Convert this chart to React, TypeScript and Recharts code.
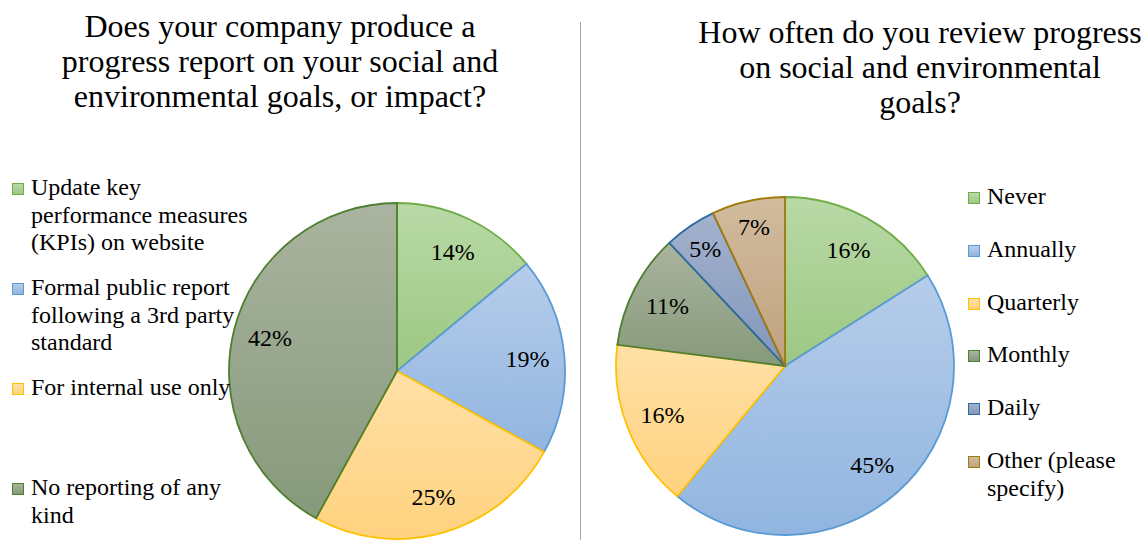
import React from 'react';
import { PieChart, Pie, Cell, Legend } from 'recharts';

// Survey question 1: progress reporting
const reportTitleLines = [
  'Does your company produce a',
  'progress report on your social and',
  'environmental goals, or impact?',
];
const reportCategories = [
  'Update key performance measures (KPIs) on website',
  'Formal public report following a 3rd party standard',
  'For internal use only',
  'No reporting of any kind',
];
const reportShares = [14, 19, 25, 42];

// Survey question 2: review frequency
const reviewTitleLines = [
  'How often do you review progress',
  'on social and environmental',
  'goals?',
];
const reviewCategories = ['Never', 'Annually', 'Quarterly', 'Monthly', 'Daily', 'Other (please specify)'];
const reviewShares = [16, 45, 16, 11, 5, 7];

type Swatch = { id: string; top: string; bottom: string; stroke: string };

const GREEN: Swatch = { id: 'green', top: '#b9d9a6', bottom: '#9cc883', stroke: '#70ad47' };
const BLUE: Swatch = { id: 'blue', top: '#b6cdea', bottom: '#91b5e0', stroke: '#5b9bd5' };
const GOLD: Swatch = { id: 'gold', top: '#ffe0a6', bottom: '#ffd27f', stroke: '#ffc000' };
const OLIVE: Swatch = { id: 'olive', top: '#aab4a0', bottom: '#86997a', stroke: '#4f7e30' };
const NAVY: Swatch = { id: 'navy', top: '#a3b2cd', bottom: '#8396bb', stroke: '#2d6aa3' };
const TAN: Swatch = { id: 'tan', top: '#d1bc9e', bottom: '#c0a27e', stroke: '#a07a0c' };

const reportPalette = [GREEN, BLUE, GOLD, OLIVE];
const reviewPalette = [GREEN, BLUE, GOLD, OLIVE, NAVY, TAN];

const FONT = "'Liberation Serif', 'Times New Roman', serif";
const RADIAN = Math.PI / 180;

const toRows = (names: string[], values: number[]) =>
  names.map((name, i) => ({ name, value: values[i] }));

const reportData = toRows(reportCategories, reportShares);
const reviewData = toRows(reviewCategories, reviewShares);

const Gradients = ({ palette, prefix }: { palette: Swatch[]; prefix: string }) => (
  <defs>
    {palette.map((s) => (
      <linearGradient key={s.id} id={`${prefix}-${s.id}`} x1="0" y1="0" x2="0" y2="1">
        <stop offset="0%" stopColor={s.top} />
        <stop offset="100%" stopColor={s.bottom} />
      </linearGradient>
    ))}
  </defs>
);

// Percent labels sit inside the slice; narrow slices push the label a little outward.
const percentLabel = (props: any) => {
  const { cx, cy, midAngle, outerRadius, value, percent } = props;
  const r = outerRadius * (percent < 0.08 ? 0.84 : 0.78);
  const x = cx + r * Math.cos(-midAngle * RADIAN);
  const y = cy + r * Math.sin(-midAngle * RADIAN);
  return (
    <text
      x={x}
      y={y}
      textAnchor="middle"
      dominantBaseline="central"
      fontFamily={FONT}
      fontSize={24}
      fill="#000"
    >
      {`${value}%`}
    </text>
  );
};

const makeLegend =
  (categories: string[], palette: Swatch[], slot: number, textWidth: number) => (props: any) => {
    const payload = [...(props.payload || [])].sort(
      (a: any, b: any) => categories.indexOf(a.value) - categories.indexOf(b.value),
    );
    return (
      <div style={{ fontFamily: FONT, fontSize: 24, lineHeight: '27.6px', color: '#000' }}>
        {payload.map((entry: any) => {
          const s = palette[categories.indexOf(entry.value)];
          return (
            <div key={entry.value} style={{ height: slot, display: 'flex', alignItems: 'flex-start' }}>
              <span
                style={{
                  display: 'inline-block',
                  width: 10,
                  height: 10,
                  marginTop: 9,
                  marginRight: 7,
                  border: `1.5px solid ${s.stroke}`,
                  background: `linear-gradient(${s.top}, ${s.bottom})`,
                  flex: '0 0 auto',
                }}
              />
              <span style={{ width: textWidth }}>{entry.value}</span>
            </div>
          );
        })}
      </div>
    );
  };

const titleStyle = (left: number, width: number, top: number): React.CSSProperties => ({
  position: 'absolute',
  left,
  width,
  top,
  textAlign: 'center',
  fontFamily: FONT,
  fontSize: 32,
  lineHeight: '35px',
  color: '#000',
  whiteSpace: 'nowrap',
});

export default function App() {
  return (
    <div
      style={{
        position: 'absolute',
        left: 0,
        top: 0,
        width: 1148,
        height: 540,
        background: '#fff',
        overflow: 'hidden',
      }}
    >
      <div style={titleStyle(0, 560, 9)}>
        {reportTitleLines.map((l) => (
          <div key={l}>{l}</div>
        ))}
      </div>
      <div style={titleStyle(692, 456, 15)}>
        {reviewTitleLines.map((l) => (
          <div key={l}>{l}</div>
        ))}
      </div>

      <div
        style={{ position: 'absolute', left: 580, top: 22, width: 1, height: 518, background: '#a6a6a6' }}
      />

      <div style={{ position: 'absolute', left: 0, top: 0 }}>
        <PieChart width={580} height={540} margin={{ top: 0, right: 0, bottom: 0, left: 0 }}>
          <Gradients palette={reportPalette} prefix="rep" />
          <Pie
            data={reportData}
            dataKey="value"
            nameKey="name"
            cx={397}
            cy={371}
            outerRadius={168}
            startAngle={90}
            endAngle={-270}
            label={percentLabel}
            labelLine={false}
            isAnimationActive={false}
          >
            {reportData.map((d, i) => (
              <Cell
                key={d.name}
                fill={`url(#rep-${reportPalette[i].id})`}
                stroke={reportPalette[i].stroke}
                strokeWidth={1.8}
              />
            ))}
          </Pie>
          <Legend
            layout="vertical"
            align="center"
            verticalAlign="middle"
            content={makeLegend(reportCategories, reportPalette, 100, 225)}
            wrapperStyle={{ left: 12, top: 174, width: 260 }}
          />
        </PieChart>
      </div>

      <div style={{ position: 'absolute', left: 580, top: 0 }}>
        <PieChart width={568} height={540} margin={{ top: 0, right: 0, bottom: 0, left: 0 }}>
          <Gradients palette={reviewPalette} prefix="rev" />
          <Pie
            data={reviewData}
            dataKey="value"
            nameKey="name"
            cx={205}
            cy={366}
            outerRadius={169}
            startAngle={90}
            endAngle={-270}
            label={percentLabel}
            labelLine={false}
            isAnimationActive={false}
          >
            {reviewData.map((d, i) => (
              <Cell
                key={d.name}
                fill={`url(#rev-${reviewPalette[i].id})`}
                stroke={reviewPalette[i].stroke}
                strokeWidth={1.8}
              />
            ))}
          </Pie>
          <Legend
            layout="vertical"
            align="center"
            verticalAlign="middle"
            content={makeLegend(reviewCategories, reviewPalette, 52.8, 150)}
            wrapperStyle={{ left: 388, top: 183, width: 180 }}
          />
        </PieChart>
      </div>
    </div>
  );
}
